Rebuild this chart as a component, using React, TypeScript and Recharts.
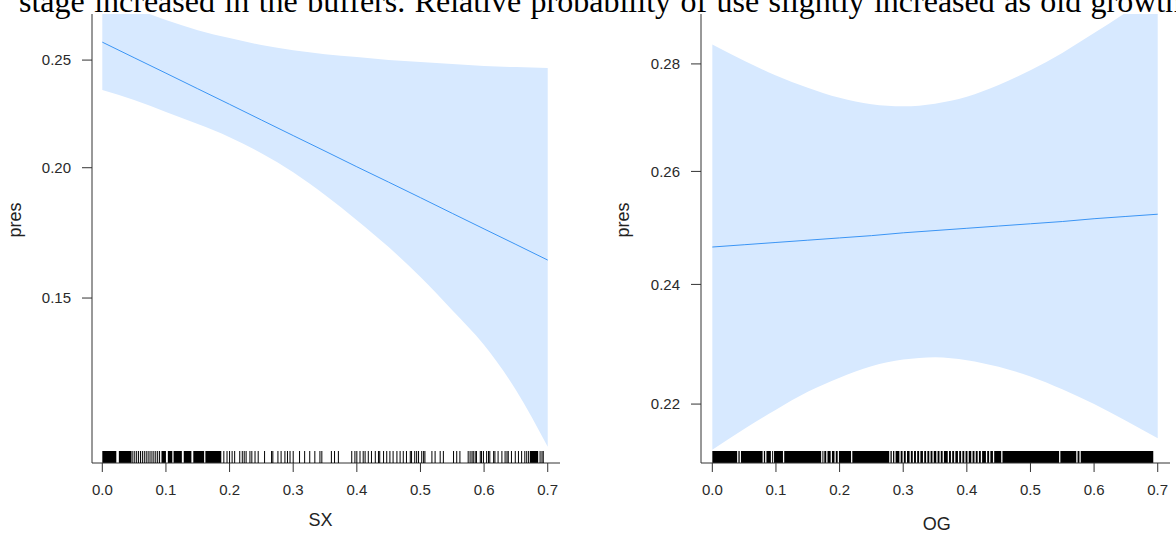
import { Area, ComposedChart, Line, ReferenceArea, Scatter, XAxis, YAxis } from "recharts";

// shared x grid (values read at every 0.05)
const xGrid = [0, 0.05, 0.1, 0.15, 0.2, 0.25, 0.3, 0.35, 0.4, 0.45, 0.5, 0.55, 0.6, 0.65, 0.7];
const xTicks = [0, 0.1, 0.2, 0.3, 0.4, 0.5, 0.6, 0.7];

// SX panel, probabilities of "pres"
const sxFit = [0.2591, 0.2512, 0.2435, 0.2359, 0.2285, 0.2212, 0.2141, 0.2072, 0.2004, 0.1939, 0.1875, 0.1812, 0.1751, 0.1692, 0.1634];
const sxLower = [0.2353, 0.2305, 0.2249, 0.2193, 0.2134, 0.2063, 0.1981, 0.1886, 0.1785, 0.1682, 0.1573, 0.1459, 0.1347, 0.1213, 0.106];
const sxUpper = [0.2845, 0.277, 0.2706, 0.2653, 0.2612, 0.2576, 0.255, 0.253, 0.2515, 0.25, 0.249, 0.248, 0.247, 0.2465, 0.246];
const sxYTicks = [0.15, 0.2, 0.25];
const sxRug = [
  0.048, 0.051, 0.054, 0.057, 0.06, 0.063, 0.066, 0.069, 0.072, 0.075, 0.078, 0.081, 0.084, 0.087, 0.09,
  0.191, 0.196, 0.2, 0.204, 0.208, 0.216, 0.22, 0.223, 0.226, 0.232, 0.235, 0.24, 0.245, 0.255, 0.266, 0.268,
  0.276, 0.281, 0.287, 0.291, 0.295, 0.3, 0.31, 0.318, 0.326, 0.334, 0.342, 0.345, 0.36, 0.365, 0.371, 0.392,
  0.397, 0.4, 0.405, 0.41, 0.413, 0.418, 0.423, 0.429, 0.434, 0.436, 0.442, 0.447, 0.452, 0.457, 0.463, 0.468,
  0.473, 0.478, 0.484, 0.486, 0.491, 0.494, 0.497, 0.502, 0.505, 0.507, 0.518, 0.523, 0.531, 0.536, 0.552,
  0.557, 0.562, 0.575, 0.578, 0.581, 0.583, 0.586, 0.588, 0.594, 0.596, 0.599, 0.604, 0.607, 0.609, 0.615,
  0.617, 0.622, 0.628, 0.633, 0.636, 0.638, 0.643, 0.649, 0.654, 0.659, 0.664, 0.667, 0.67, 0.688, 0.691, 0.693,
];
// runs where the rug ticks overlap into a solid block
const sxRugDense = [
  [0, 0.022], [0.026, 0.046], [0.093, 0.1], [0.103, 0.11], [0.112, 0.125],
  [0.128, 0.14], [0.143, 0.16], [0.162, 0.187], [0.672, 0.685],
];

// OG panel
const ogFit = [0.2465, 0.2469, 0.2473, 0.2477, 0.2481, 0.2485, 0.249, 0.2494, 0.2498, 0.2502, 0.2506, 0.251, 0.2515, 0.2519, 0.2523];
const ogLower = [0.2127, 0.216, 0.2191, 0.222, 0.2243, 0.2262, 0.2273, 0.2277, 0.2272, 0.2261, 0.2245, 0.2224, 0.22, 0.2173, 0.2145];
const ogUpper = [0.2837, 0.2806, 0.2778, 0.2755, 0.2736, 0.2724, 0.272, 0.2725, 0.2738, 0.276, 0.2788, 0.2821, 0.2859, 0.2899, 0.2943];
const ogYTicks = [0.22, 0.24, 0.26, 0.28];
const ogRug: number[] = [];
const ogRugDense = [
  [0, 0.039], [0.041, 0.043], [0.045, 0.079], [0.081, 0.083], [0.085, 0.092], [0.094, 0.095],
  [0.097, 0.111], [0.113, 0.171], [0.173, 0.174], [0.176, 0.179], [0.181, 0.186], [0.188, 0.192],
  [0.194, 0.197], [0.199, 0.218], [0.22, 0.278], [0.28, 0.282], [0.284, 0.286], [0.288, 0.294],
  [0.296, 0.299], [0.301, 0.304], [0.306, 0.31], [0.312, 0.315], [0.317, 0.32], [0.322, 0.325],
  [0.327, 0.331], [0.333, 0.336], [0.338, 0.341], [0.343, 0.346], [0.348, 0.352], [0.354, 0.357],
  [0.359, 0.362], [0.364, 0.37], [0.372, 0.375], [0.377, 0.38], [0.382, 0.386], [0.388, 0.391],
  [0.393, 0.396], [0.398, 0.401], [0.403, 0.407], [0.409, 0.412], [0.414, 0.417], [0.419, 0.422],
  [0.424, 0.43], [0.432, 0.435], [0.437, 0.441], [0.443, 0.454], [0.456, 0.545], [0.547, 0.572],
  [0.574, 0.577], [0.579, 0.693],
];

const logit = (p: number) => Math.log(p / (1 - p));
const invLogit = (v: number) => 1 / (1 + Math.exp(-v));

const axisColor = "#333";
const tickFont = { fill: "#2a2a2a", fontSize: 15, fontFamily: "'Liberation Sans', Arial, sans-serif" };

function EffectPanel({
  left,
  width,
  axisWidth,
  marginRight,
  xDomain,
  yDomain,
  yTicks,
  fit,
  lower,
  upper,
  rug,
  rugDense,
}: {
  left: number;
  width: number;
  axisWidth: number;
  marginRight: number;
  xDomain: [number, number];
  yDomain: [number, number];
  yTicks: number[];
  fit: number[];
  lower: number[];
  upper: number[];
  rug: number[];
  rugDense: number[][];
}) {
  // the effect is plotted on the logit (link) scale, labelled in probabilities
  const data = xGrid.map((x, i) => ({
    x,
    fit: logit(fit[i]),
    band: [logit(lower[i]), logit(upper[i])],
  }));
  const yMin = logit(yDomain[0]);
  const rugData = rug.map((x) => ({ x, y: yMin }));

  return (
    <ComposedChart
      width={width}
      height={535}
      data={data}
      margin={{ top: 14, right: marginRight, bottom: 0, left: 0 }}
      style={{ position: "absolute", left, top: 0 }}
    >
      <XAxis
        dataKey="x"
        type="number"
        domain={xDomain}
        allowDataOverflow
        ticks={xTicks}
        interval={0}
        tickFormatter={(v: number) => v.toFixed(1)}
        height={72}
        tickSize={9}
        tickMargin={12}
        stroke={axisColor}
        tick={tickFont}
      />
      <YAxis
        type="number"
        domain={[yMin, logit(yDomain[1])]}
        allowDataOverflow
        ticks={yTicks.map(logit)}
        interval={0}
        tickFormatter={(v: number) => invLogit(v).toFixed(2)}
        width={axisWidth}
        tickSize={10}
        tickMargin={11}
        stroke={axisColor}
        tick={tickFont}
      />
      <Area
        dataKey="band"
        type="monotone"
        stroke="none"
        fill="#d7e9ff"
        fillOpacity={1}
        isAnimationActive={false}
      />
      <Line dataKey="fit" type="linear" stroke="#3b95f5" strokeWidth={1} dot={false} isAnimationActive={false} />
      {rugDense.map(([a, b], i) => (
        <ReferenceArea
          key={i}
          x1={a}
          x2={b}
          shape={(p: any) => (
            <rect x={p.x} y={p.y + p.height - 12} width={Math.max(p.width, 1)} height={12} fill="#000" />
          )}
        />
      ))}
      {rugData.length > 0 && (
        <Scatter
          data={rugData}
          dataKey="y"
          isAnimationActive={false}
          shape={(p: any) => <line x1={p.cx} x2={p.cx} y1={p.cy} y2={p.cy - 12} stroke="#000" strokeWidth={1} />}
        />
      )}
    </ComposedChart>
  );
}

export default function App() {
  const titleFont = "'Liberation Sans', Arial, sans-serif";
  return (
    <div style={{ position: "absolute", left: 0, top: 0, width: 1176, height: 535, background: "#fff", overflow: "hidden" }}>
      <EffectPanel
        left={0}
        width={580}
        axisWidth={92}
        marginRight={20}
        xDomain={[-0.0162, 0.7193]}
        yDomain={[0.10197, 0.2738]}
        yTicks={sxYTicks}
        fit={sxFit}
        lower={sxLower}
        upper={sxUpper}
        rug={sxRug}
        rugDense={sxRugDense}
      />
      <EffectPanel
        left={600}
        width={576}
        axisWidth={101}
        marginRight={6}
        xDomain={[-0.0178, 0.7193]}
        yDomain={[0.2106, 0.2896]}
        yTicks={ogYTicks}
        fit={ogFit}
        lower={ogLower}
        upper={ogUpper}
        rug={ogRug}
        rugDense={ogRugDense}
      />
      <svg width={1176} height={535} style={{ position: "absolute", left: 0, top: 0, pointerEvents: "none" }}>
        <text
          x={19}
          y={12}
          fontSize={32}
          wordSpacing={1.4}
          fontFamily="'Liberation Serif', 'Times New Roman', serif"
          fill="#000"
        >
          stage increased in the buffers. Relative probability of use slightly increased as old growth
        </text>
        <text transform="translate(21.2,220) rotate(-90)" textAnchor="middle" fontSize={18} fontFamily={titleFont} fill="#222">
          pres
        </text>
        <text transform="translate(629.2,220) rotate(-90)" textAnchor="middle" fontSize={18} fontFamily={titleFont} fill="#222">
          pres
        </text>
        <text x={320.5} y={526} textAnchor="middle" fontSize={18} fontFamily={titleFont} fill="#222">
          SX
        </text>
        <text x={936.7} y={529.5} textAnchor="middle" fontSize={18} fontFamily={titleFont} fill="#222">
          OG
        </text>
      </svg>
    </div>
  );
}
